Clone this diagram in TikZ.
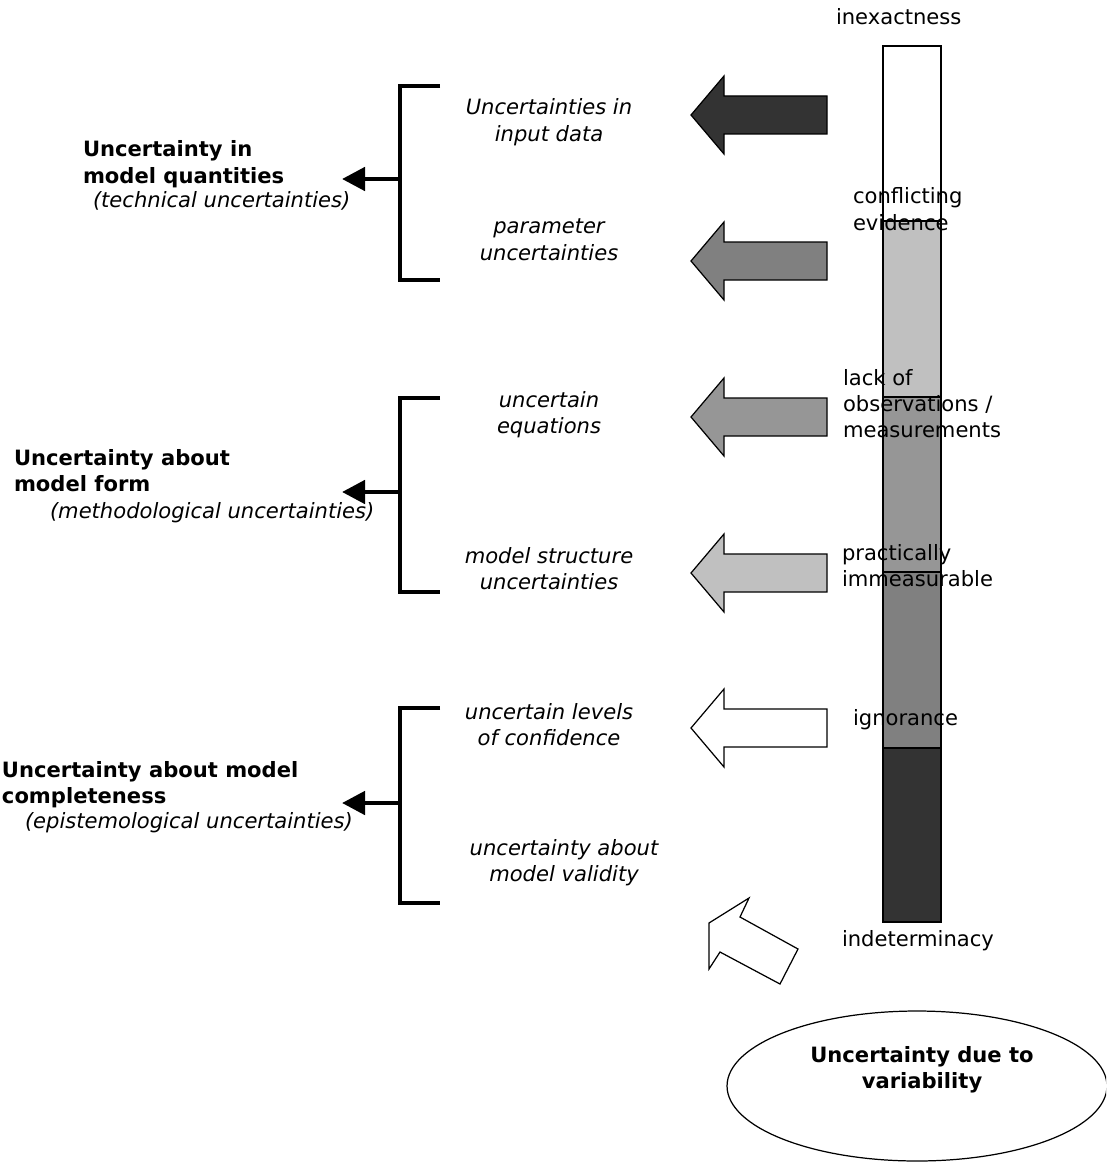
\documentclass[tikz,border=0pt]{standalone}
\usepackage{fontspec}
\setmainfont{DejaVu Sans}
\usetikzlibrary{arrows.meta,shapes.geometric}
\definecolor{cdark}{HTML}{333333}
\definecolor{cmid}{HTML}{808080}
\definecolor{cmidl}{HTML}{969696}
\definecolor{clight}{HTML}{C0C0C0}
\newcommand{\ltabx}[1]{\begin{tabular}[t]{@{}l@{}}#1\end{tabular}}
\newcommand{\ctabx}[1]{\begin{tabular}[t]{@{}c@{}}#1\end{tabular}}
\begin{document}
\begin{tikzpicture}[x=0.02cm,y=-0.02cm,
  lbl/.style={inner sep=0pt, outer sep=0pt, font=\fontsize{12}{14.8}\selectfont},
  boldlbl/.style={lbl, font=\fontsize{12}{14.8}\selectfont\bfseries},
  itlbl/.style={lbl, font=\fontsize{12}{14.8}\selectfont\itshape},
  seg/.style={draw=black, line width=1.1pt},
  barrow/.style={draw=black, line width=0.7pt, line join=miter},
  brk/.style={line width=2.7pt, line join=miter},
  brarrow/.style={line width=2.7pt, -{Triangle[length=4.6mm,width=4.6mm]}}
]
\useasboundingbox (0,0) rectangle (1106,1162);
\clip (0,0) rectangle (1106,1162);

% ---- scale bar ----
\draw[seg, fill=white]  (883,46)  rectangle (941,221);
\draw[seg, fill=clight] (883,221) rectangle (941,397);
\draw[seg, fill=cmidl]  (883,397) rectangle (941,572);
\draw[seg, fill=cmid]   (883,572) rectangle (941,748);
\draw[seg, fill=cdark]  (883,748) rectangle (941,922);

% ---- block arrows ----
\draw[barrow, fill=cdark, shift={(0,115)}]
  (691,0) -- (724,-39) -- (724,-19) -- (827,-19) -- (827,19) -- (724,19) -- (724,39) -- cycle;
\draw[barrow, fill=cmid, shift={(0,261)}]
  (691,0) -- (724,-39) -- (724,-19) -- (827,-19) -- (827,19) -- (724,19) -- (724,39) -- cycle;
\draw[barrow, fill=cmidl, shift={(0,417)}]
  (691,0) -- (724,-39) -- (724,-19) -- (827,-19) -- (827,19) -- (724,19) -- (724,39) -- cycle;
\draw[barrow, fill=clight, shift={(0,573)}]
  (691,0) -- (724,-39) -- (724,-19) -- (827,-19) -- (827,19) -- (724,19) -- (724,39) -- cycle;
\draw[barrow, fill=white, shift={(0,728)}]
  (691,0) -- (724,-39) -- (724,-19) -- (827,-19) -- (827,19) -- (724,19) -- (724,39) -- cycle;
\draw[barrow, fill=white]
  (749,898) -- (709,923) -- (709,969) -- (720,952) -- (780,984) -- (798,949) -- (740,917) -- cycle;

% ---- brackets ----
\draw[brk] (440,86) -- (400,86) -- (400,280) -- (440,280);
\draw[brk] (440,398) -- (400,398) -- (400,592) -- (440,592);
\draw[brk] (440,708) -- (400,708) -- (400,903) -- (440,903);
\coordinate (m1) at (400,179);
\coordinate (t1) at (342,179);
\coordinate (m2) at (400,492);
\coordinate (t2) at (342,492);
\coordinate (m3) at (400,803);
\coordinate (t3) at (342,803);
\draw[brarrow] (m1) -- (t1);
\draw[brarrow] (m2) -- (t2);
\draw[brarrow] (m3) -- (t3);

% ---- left category labels ----
\node[boldlbl, anchor=base west] (q1) at (83,157) {\ltabx{Uncertainty in\\model quantities}};
\node[itlbl, anchor=base west] (q1i) at (93,208) {(technical uncertainties)};
\node[boldlbl, anchor=base west] (q2) at (14,465) {\ltabx{Uncertainty about\\model form}};
\node[itlbl, anchor=base west] (q2i) at (50,518) {(methodological uncertainties)};
\node[boldlbl, anchor=base west] (q3) at (2,777) {\ltabx{Uncertainty about model\\completeness}};
\node[itlbl, anchor=base west] (q3i) at (25,828) {(epistemological uncertainties)};

% ---- middle labels ----
\node[itlbl, anchor=base] (s1) at (549,115) {\ctabx{Uncertainties in\\input data}};
\node[itlbl, anchor=base] (s2) at (549,234) {\ctabx{parameter\\uncertainties}};
\node[itlbl, anchor=base] (s3) at (549,407) {\ctabx{uncertain\\equations}};
\node[itlbl, anchor=base] (s4) at (549,563) {\ctabx{model structure\\uncertainties}};
\node[itlbl, anchor=base] (s5) at (549,719) {\ctabx{uncertain levels\\of confidence}};
\node[itlbl, anchor=base] (s6) at (564,855) {\ctabx{uncertainty about\\model validity}};

% ---- bar labels ----
\node[lbl, anchor=base west] (r1) at (836,25) {inexactness};
\node[lbl, anchor=base west] (r2) at (853,204) {\ltabx{conflicting\\evidence}};
\node[lbl, anchor=base west] (r3) at (843,385) {\ltabx{lack of\\observations /\\measurements}};
\node[lbl, anchor=base west] (r4) at (842,560) {\ltabx{practically\\immeasurable}};
\node[lbl, anchor=base west] (r5) at (853,725) {ignorance};
\node[lbl, anchor=base west] (r6) at (842,946) {indeterminacy};

% ---- variability ellipse ----
\node[draw, ellipse, line width=0.7pt, inner sep=0pt, minimum width=7.6cm, minimum height=3cm] (ell) at (917,1086) {};
\node[boldlbl, anchor=base] (ellt) at (922,1062) {\ctabx{Uncertainty due to\\variability}};
\end{tikzpicture}
\end{document}
